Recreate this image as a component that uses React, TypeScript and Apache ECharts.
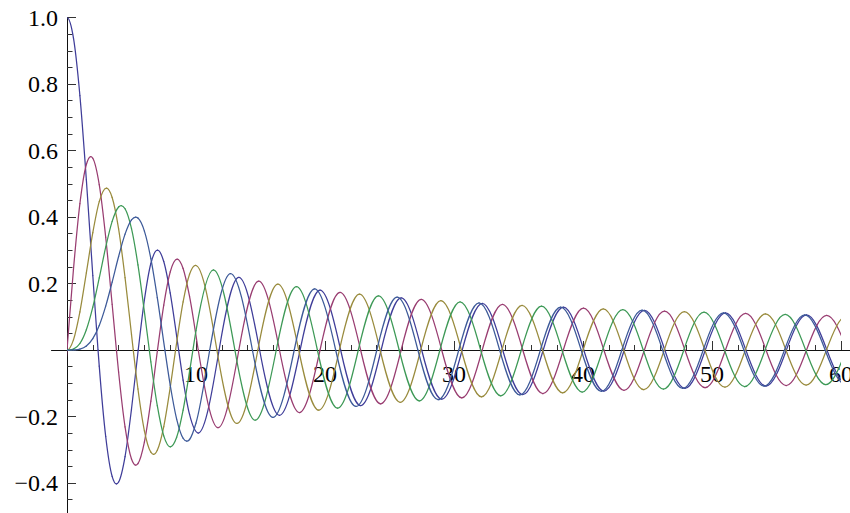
import React, { useEffect, useRef } from 'react';
import * as echarts from 'echarts';

type Pt = [number, number];

// Bessel functions J0..J4 read at grid points, zeros and extrema
const besselJ0: Pt[] = [
  [-0.5, 0.9385], [0, 1], [0.5, 0.9385], [1, 0.7652], [1.5, 0.5118], [2, 0.2239], [2.4048, 0], [2.5, -0.0484],
  [3, -0.2601], [3.5, -0.3801], [3.8317, -0.4028], [4, -0.3971], [4.5, -0.3205], [5, -0.1776], [5.5201, 0],
  [6, 0.1506], [6.5, 0.2601], [7.0156, 0.3001], [7.5, 0.2663], [8, 0.1717], [8.5, 0.0419], [8.6537, 0],
  [9, -0.0903], [9.5, -0.1939], [10.1735, -0.2497], [11.7915, 0], [13.3237, 0.2184], [14.9309, 0],
  [16.4706, -0.1965], [18.0711, 0], [19.6159, 0.1801], [21.2116, 0], [22.7601, -0.1672], [24.3525, 0],
  [25.9037, 0.1567], [27.4935, 0], [29.0468, -0.148], [30.6346, 0], [32.1897, 0.1406], [33.7758, 0],
  [35.3323, -0.1342], [36.9171, 0], [38.4748, 0.1286], [40.0584, 0], [41.6171, -0.1237], [43.1998, 0],
  [44.7593, 0.1193], [46.3412, 0], [47.9015, -0.1153], [49.4826, 0], [51.0435, 0.1117], [52.6241, 0],
  [54.1856, -0.1084], [55.7655, 0], [57.3275, 0.1054], [58.907, 0], [60.4695, -0.1026], [62.0485, 0],
];

const besselJ1: Pt[] = [
  [-0.5, -0.2423], [0, 0], [0.5, 0.2423], [1, 0.4401], [1.5, 0.5579], [1.8412, 0.5819], [2, 0.5767],
  [2.5, 0.4971], [3, 0.3391], [3.5, 0.1374], [3.8317, 0], [4, -0.066], [4.5, -0.2311], [5, -0.3276],
  [5.3314, -0.3461], [5.5, -0.3414], [6, -0.2767], [6.5, -0.1538], [7.0156, 0], [7.5, 0.1352], [8, 0.2346],
  [8.5363, 0.2733], [9, 0.2453], [9.5, 0.1613], [10.1735, 0], [11.706, -0.2335], [13.3237, 0],
  [14.8636, 0.207], [16.4706, 0], [18.0155, -0.188], [19.6159, 0], [21.1644, 0.1734], [22.7601, 0],
  [24.3113, -0.1618], [25.9037, 0], [27.4571, 0.1523], [29.0468, 0], [30.6019, -0.1442], [32.1897, 0],
  [33.7462, 0.1374], [35.3323, 0], [36.89, -0.1314], [38.4748, 0], [40.0334, 0.1261], [41.6171, 0],
  [43.1766, -0.1214], [44.7593, 0], [46.3196, 0.1172], [47.9015, 0], [49.4624, -0.1135], [51.0435, 0],
  [52.605, 0.11], [54.1856, 0], [55.7476, -0.1069], [57.3275, 0], [58.89, 0.104], [60.4695, 0],
  [62.0323, -0.1013],
];

const besselJ2: Pt[] = [
  [-0.5, 0.0306], [0, 0], [0.5, 0.0306], [1, 0.1149], [1.5, 0.2321], [2, 0.3528], [2.5, 0.4461],
  [3.0542, 0.4865], [3.5, 0.4586], [4, 0.3641], [4.5, 0.2178], [5, 0.0466], [5.1356, 0], [5.5, -0.1173],
  [6, -0.2429], [6.5, -0.3074], [6.7061, -0.314], [7, -0.3014], [7.5, -0.2303], [8, -0.113], [8.4172, 0],
  [9, 0.1448], [9.5, 0.2279], [9.9695, 0.2547], [11.6198, 0], [13.1704, -0.221], [14.796, 0],
  [16.3475, 0.198], [17.9598, 0], [19.5129, -0.1811], [21.117, 0], [22.6716, 0.1678], [24.2701, 0],
  [25.826, -0.1572], [27.4206, 0], [28.978, 0.1484], [30.5692, 0], [32.1276, -0.1409], [33.7166, 0],
  [35.2757, 0.1344], [36.8629, 0], [38.4228, -0.1288], [40.0085, 0], [41.569, 0.1238], [43.1535, 0],
  [44.7147, -0.1194], [46.298, 0], [47.8597, 0.1154], [49.4422, 0], [51.0044, -0.1118], [52.5861, 0],
  [54.1487, 0.1085], [55.7297, 0], [57.2927, -0.1054], [58.8731, 0], [60.4364, 0.1027], [62.0163, 0],
];

const besselJ3: Pt[] = [
  [-0.5, -0.0026], [0, 0], [0.5, 0.0026], [1, 0.0196], [1.5, 0.061], [2, 0.1289], [2.5, 0.2166],
  [3, 0.3091], [3.5, 0.3868], [4, 0.4302], [4.2012, 0.4344], [4.5, 0.4247], [5, 0.3648], [5.5, 0.2561],
  [6, 0.1148], [6.3802, 0], [6.5, -0.0354], [7, -0.1676], [7.5, -0.2581], [8.0152, -0.2911], [8.5, -0.2626],
  [9, -0.1809], [9.5, -0.0653], [9.761, 0], [10, 0.0583], [11.3459, 0.2409], [13.0152, 0],
  [14.5858, -0.2111], [16.2235, 0], [17.7887, 0.1905], [19.4094, 0], [20.9725, -0.1751], [22.5827, 0],
  [24.1449, 0.163], [25.7482, 0], [27.3101, -0.1531], [28.9083, 0], [30.4703, 0.1449], [32.0648, 0],
  [33.627, -0.1379], [35.2187, 0], [36.781, 0.1318], [38.3705, 0], [39.9331, -0.1264], [41.5207, 0],
  [43.0836, 0.1217], [44.6698, 0], [46.233, -0.1175], [47.8178, 0], [49.3813, 0.1137], [50.965, 0],
  [52.5289, -0.1102], [54.1117, 0], [55.6757, 0.107], [57.2577, 0], [58.822, -0.1041], [60.4033, 0],
  [61.9679, 0.1014],
];

const besselJ4: Pt[] = [
  [-0.5, 0.0002], [0, 0], [0.5, 0.0002], [1, 0.0025], [1.5, 0.0118], [2, 0.034], [2.5, 0.0738],
  [3, 0.132], [3.5, 0.2044], [4, 0.2811], [4.5, 0.3484], [5, 0.3912], [5.3176, 0.3997], [5.5, 0.3967],
  [6, 0.3576], [6.5, 0.2748], [7, 0.1578], [7.5883, 0], [8, -0.1053], [8.5, -0.2077], [9, -0.2654],
  [9.2824, -0.2743], [9.5, -0.2691], [10, -0.2196], [11.0647, 0], [12.6819, 0.23], [14.3725, 0],
  [15.9641, -0.2029], [17.616, 0], [19.196, 0.1841], [20.8269, 0], [22.401, -0.1699], [24.019, 0],
  [25.5898, 0.1587], [27.1991, 0], [28.7679, -0.1495], [30.371, 0], [31.9386, 0.1417], [33.5371, 0],
  [35.1039, -0.1351], [36.699, 0], [38.2654, 0.1293], [39.8576, 0], [41.4237, -0.1243], [43.0138, 0],
  [44.5796, 0.1197], [46.1679, 0], [47.7337, -0.1157], [49.3204, 0], [50.8862, 0.112], [52.4716, 0],
  [54.0374, -0.1087], [55.6217, 0], [57.1876, 0.1056], [58.7709, 0], [60.3368, -0.1028], [61.9193, 0],
];

const curves: Pt[][] = [besselJ0, besselJ1, besselJ2, besselJ3, besselJ4];
const curveNames = ['J0', 'J1', 'J2', 'J3', 'J4'];
const curveColors = ['#3F3D99', '#993D71', '#998B3D', '#3D9956', '#3D5A99'];

const xMin = 0;
const xMax = 60;
const xStep = 10;
const yMin = -0.6;
const yMax = 1.0;
const yStep = 0.2;

const FONT = "'Liberation Serif', 'Times New Roman', Times, serif";
const TICK = '#333';
const AXIS = '#111';

// geometry shared by the grids (pixels)
const PLOT_LEFT = 67;
const PLOT_WIDTH = 774;
const PLOT_TOP = 17.5;
const PLOT_HEIGHT = 532;
const ZERO_Y = PLOT_TOP + (PLOT_HEIGHT * (yMax - 0)) / (yMax - yMin);

function isExt(p: Pt[], i: number): boolean {
  if (i <= 0 || i >= p.length - 1) return false;
  return (p[i][1] - p[i - 1][1]) * (p[i + 1][1] - p[i][1]) < 0;
}

function slopeAt(p: Pt[], i: number): number {
  const n = p.length;
  if (i === 0) return (p[1][1] - p[0][1]) / (p[1][0] - p[0][0]);
  if (i === n - 1) return (p[n - 1][1] - p[n - 2][1]) / (p[n - 1][0] - p[n - 2][0]);
  if (isExt(p, i)) return 0;
  const [x, y] = p[i];
  const [xl, yl] = p[i - 1];
  const [xr, yr] = p[i + 1];
  const h0 = x - xl;
  const h1 = xr - x;
  const s0 = (y - yl) / h0;
  const s1 = (yr - y) / h1;
  if (y === 0) {
    const sl: number[] = [];
    if (isExt(p, i - 1)) sl.push(s0);
    if (isExt(p, i + 1)) sl.push(s1);
    if (sl.length) return (Math.PI / 2) * (sl.reduce((a, b) => a + b, 0) / sl.length);
  }
  return (s0 * h1 + s1 * h0) / (h0 + h1);
}

function makeSeries(pts: Pt[], name: string, color: string) {
  const slopes = pts.map((_, i) => slopeAt(pts, i));
  const segs = pts.slice(0, -1).map((p, i) => [p[0], p[1], pts[i + 1][0], pts[i + 1][1]]);
  return {
    type: 'custom',
    name,
    coordinateSystem: 'cartesian2d',
    xAxisIndex: 0,
    yAxisIndex: 0,
    clip: true,
    silent: true,
    z: 3,
    encode: { x: [0, 2], y: [1, 3] },
    data: segs,
    renderItem: (params: any, api: any) => {
      const i = params.dataIndex;
      const [x0, y0] = pts[i];
      const [x1, y1] = pts[i + 1];
      const dx = x1 - x0;
      const a = api.coord([x0, y0]);
      const b = api.coord([x1, y1]);
      const c1 = api.coord([x0 + dx / 3, y0 + (slopes[i] * dx) / 3]);
      const c2 = api.coord([x1 - dx / 3, y1 - (slopes[i + 1] * dx) / 3]);
      return {
        type: 'bezierCurve',
        shape: {
          x1: a[0], y1: a[1], x2: b[0], y2: b[1],
          cpx1: c1[0], cpy1: c1[1], cpx2: c2[0], cpy2: c2[1],
        },
        style: { stroke: color, lineWidth: 1.25, fill: 'none', lineCap: 'round' },
      };
    },
  };
}

export default function App() {
  const ref = useRef<HTMLDivElement>(null);
  useEffect(() => {
    if (!ref.current) return;
    const chart = echarts.init(ref.current, null, { renderer: 'svg' });
    const option: any = {
      animation: false,
      backgroundColor: '#ffffff',
      grid: [
        // data grid
        { left: PLOT_LEFT, top: PLOT_TOP, width: PLOT_WIDTH, height: PLOT_HEIGHT, containLabel: false, outerBoundsMode: 'none' },
        // x-axis ticks and labels, bottom edge on y = 0
        { left: PLOT_LEFT, top: 0, width: PLOT_WIDTH, height: ZERO_Y, containLabel: false, outerBoundsMode: 'none' },
        // x-axis line, slightly padded beyond the data range
        { left: PLOT_LEFT - 15.5, top: 0, width: PLOT_WIDTH + 40, height: ZERO_Y, containLabel: false, outerBoundsMode: 'none' },
      ],
      xAxis: [
        {
          type: 'value', gridIndex: 0, min: xMin, max: xMax, show: false,
          splitLine: { show: false },
        },
        {
          type: 'value', gridIndex: 1, min: xMin, max: xMax, interval: xStep, position: 'bottom',
          axisLine: { show: false, onZero: false },
          axisTick: { show: true, inside: true, length: 9, lineStyle: { color: TICK, width: 1 } },
          minorTick: { show: true, splitNumber: 5, length: 5, lineStyle: { color: TICK, width: 1 } },
          axisLabel: {
            show: true, margin: 12, fontSize: 24, fontFamily: FONT, color: '#000',
            formatter: (v: number) => (Math.abs(v) < 1e-9 ? '' : String(Math.round(v))),
          },
          splitLine: { show: false },
          minorSplitLine: { show: false },
        },
        {
          type: 'value', gridIndex: 2, min: 0, max: 1, position: 'bottom',
          axisLine: { show: true, onZero: false, lineStyle: { color: AXIS, width: 1 } },
          axisTick: { show: false }, axisLabel: { show: false }, splitLine: { show: false },
        },
      ],
      yAxis: [
        {
          type: 'value', gridIndex: 0, min: yMin, max: yMax, interval: yStep, position: 'left',
          axisLine: { show: true, onZero: false, lineStyle: { color: AXIS, width: 1 } },
          axisTick: { show: true, inside: true, length: 9, lineStyle: { color: TICK, width: 1 } },
          minorTick: { show: true, splitNumber: 4, length: 5.5, lineStyle: { color: TICK, width: 1 } },
          axisLabel: {
            show: true, margin: 9, fontSize: 24, fontFamily: FONT, color: '#000',
            formatter: (v: number) =>
              Math.abs(v) < 1e-9 || v < -0.5 ? '' : (v < 0 ? '\u2212' : '') + Math.abs(v).toFixed(1),
          },
          splitLine: { show: false },
          minorSplitLine: { show: false },
        },
        { type: 'value', gridIndex: 1, min: 0, max: 1, show: false, splitLine: { show: false } },
        { type: 'value', gridIndex: 2, min: 0, max: 1, show: false, splitLine: { show: false } },
      ],
      series: curves.map((c, k) => makeSeries(c, curveNames[k], curveColors[k])),
    };
    chart.setOption(option);
    return () => chart.dispose();
  }, []);
  return (
    <div style={{ position: 'fixed', left: 0, top: 0, width: 850, height: 513, overflow: 'hidden', background: '#fff' }}>
      <div ref={ref} style={{ width: 850, height: 560 }} />
    </div>
  );
}
